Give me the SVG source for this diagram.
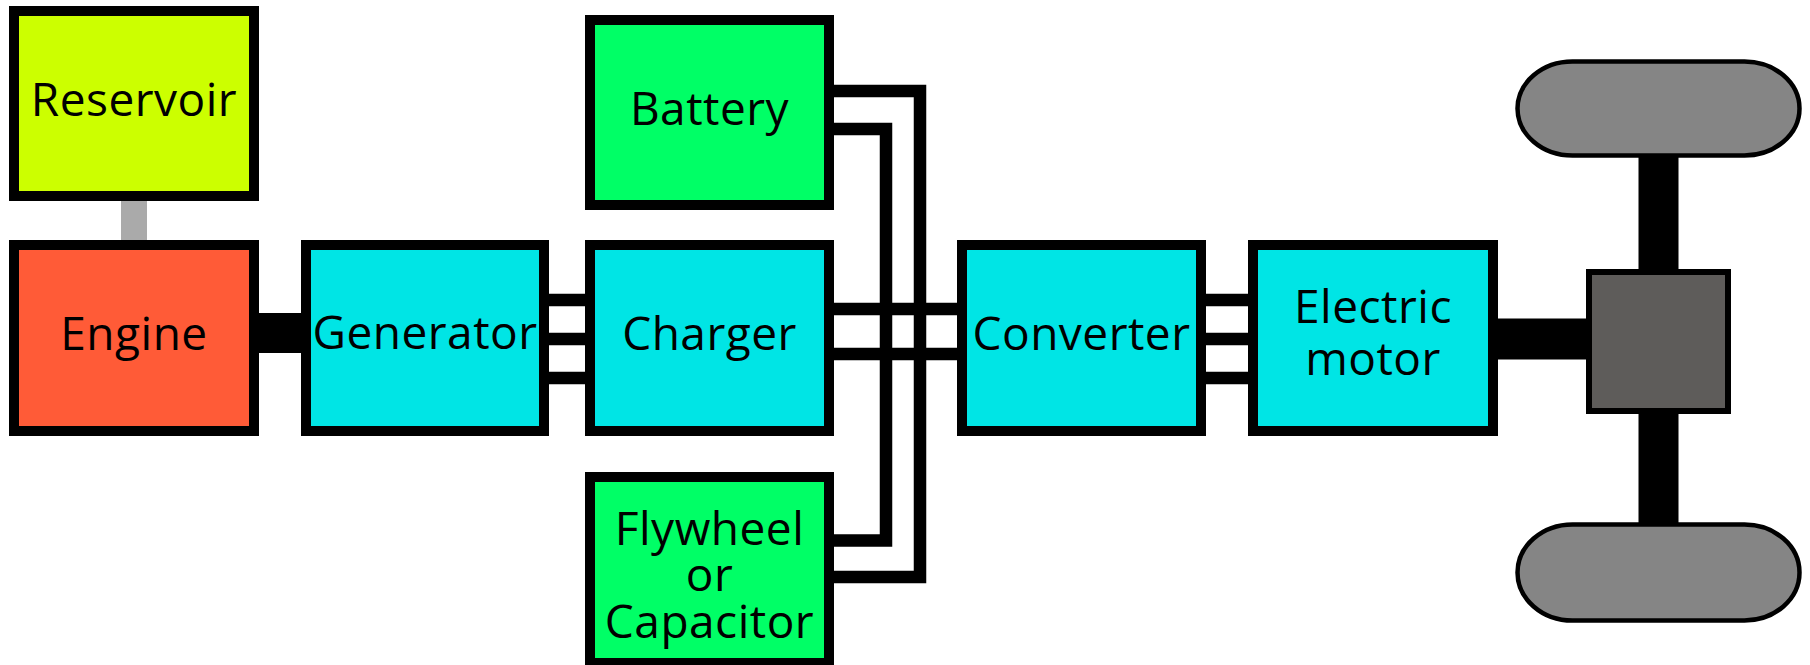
<svg xmlns="http://www.w3.org/2000/svg" width="1810" height="665" viewBox="0 0 1810 665">
<style>
.box{stroke:#000;stroke-width:10}
.res{fill:#ccff00}
.eng{fill:#ff5b37}
.cyan{fill:#00e5e5}
.green{fill:#00ff66}
.wire{fill:none;stroke:#000;stroke-width:12.5;stroke-linejoin:miter;stroke-linecap:butt}
.shaft{fill:none;stroke:#000;stroke-linecap:butt}
.lbl{font-family:"Open Sans","DejaVu Sans",sans-serif;font-size:46px;letter-spacing:0.5px;fill:#000;text-anchor:middle}
.wheel{fill:#858585;stroke:#000;stroke-width:4.5}
.diff{fill:#5e5c5a;stroke:#000;stroke-width:6}
</style>
<rect width="1810" height="665" fill="#fff"/>
<g id="connectors">
  <line x1="134" y1="196" x2="134" y2="245" stroke="#aaaaaa" stroke-width="26"/>
  <line class="shaft" x1="254" y1="333" x2="306" y2="333" stroke-width="40"/>
  <line class="wire" x1="540" y1="300" x2="595" y2="300"/>
  <line class="wire" x1="540" y1="339" x2="595" y2="339"/>
  <line class="wire" x1="540" y1="378" x2="595" y2="378"/>
  <line class="wire" x1="825" y1="309" x2="965" y2="309"/>
  <line class="wire" x1="825" y1="354" x2="965" y2="354"/>
  <path class="wire" d="M825 91 H920 V577 H825"/>
  <path class="wire" d="M825 129 H886 V540.5 H825"/>
  <line class="wire" x1="1198" y1="300" x2="1256" y2="300"/>
  <line class="wire" x1="1198" y1="339" x2="1256" y2="339"/>
  <line class="wire" x1="1198" y1="378" x2="1256" y2="378"/>
  <line class="shaft" x1="1490" y1="339" x2="1592" y2="339" stroke-width="41"/>
  <line class="shaft" x1="1658.5" y1="150" x2="1658.5" y2="530" stroke-width="40"/>
</g>
<g id="reservoir">
  <rect class="box res" x="14" y="11" width="240" height="185"/>
  <text class="lbl" x="134" y="116">Reservoir</text>
</g>
<g id="engine">
  <rect class="box eng" x="14" y="245" width="240" height="186"/>
  <text class="lbl" x="134" y="350">Engine</text>
</g>
<g id="generator">
  <rect class="box cyan" x="306" y="245" width="238" height="186"/>
  <text class="lbl" x="425" y="349">Generator</text>
</g>
<g id="battery">
  <rect class="box green" x="590" y="20" width="239" height="185"/>
  <text class="lbl" x="709.5" y="125">Battery</text>
</g>
<g id="charger">
  <rect class="box cyan" x="590" y="245" width="239" height="186"/>
  <text class="lbl" x="709.5" y="350">Charger</text>
</g>
<g id="flywheel">
  <rect class="box green" x="590" y="477" width="239" height="186"/>
  <text class="lbl" x="709.5" y="545">Flywheel</text>
  <text class="lbl" x="709.5" y="591">or</text>
  <text class="lbl" x="709.5" y="638">Capacitor</text>
</g>
<g id="converter">
  <rect class="box cyan" x="962" y="245" width="239" height="186"/>
  <text class="lbl" x="1081.5" y="350">Converter</text>
</g>
<g id="motor">
  <rect class="box cyan" x="1253" y="245" width="240" height="186"/>
  <text class="lbl" x="1373" y="323">Electric</text>
  <text class="lbl" x="1373" y="375">motor</text>
</g>
<g id="wheel-top">
  <rect class="wheel" x="1517.5" y="61.5" width="282" height="94" rx="55" ry="47"/>
</g>
<g id="wheel-bottom">
  <rect class="wheel" x="1517.5" y="524.5" width="282" height="96" rx="55" ry="48"/>
</g>
<g id="differential">
  <rect class="diff" x="1589" y="272" width="139" height="139"/>
</g>
</svg>
